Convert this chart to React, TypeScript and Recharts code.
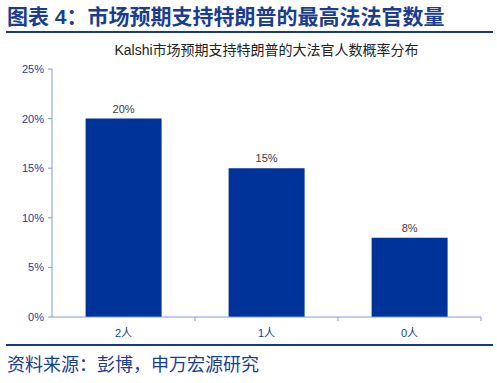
import * as React from 'react';
import { BarChart, Bar, XAxis, YAxis, LabelList } from 'recharts';

const categories = ['2人', '1人', '0人'];
const probabilities = [0.2, 0.15, 0.08];
const yTicks = [0, 0.05, 0.1, 0.15, 0.2, 0.25];

const data = categories.map((name, i) => ({ name, value: probabilities[i] }));

const FONT = '"Liberation Sans", Arial, "Noto Sans CJK SC", sans-serif';
const NAVY = '#1B3D8F';
const AXIS = '#7F9BD6';

const pct = (v: number) => `${Math.round(v * 100)}%`;

// category label plus a boundary tick at the right edge of each band
const XTick = (props: any) => {
  const { x, y, payload, width } = props;
  const band = width / categories.length;
  return (
    <g>
      <line x1={x + band / 2} x2={x + band / 2} y1={y - 12} y2={y - 8} stroke={AXIS} />
      <text x={x} y={y} dy="0.71em" textAnchor="middle" fill={NAVY} fontSize={11} fontFamily={FONT}>
        {payload.value}
      </text>
    </g>
  );
};

const App = () => {
  return (
    <div style={{ position: 'absolute', left: 0, top: 0, width: 497, height: 383, background: '#fff', fontFamily: FONT }}>
      <div
        style={{
          position: 'absolute',
          left: 7,
          top: 4,
          fontSize: 21,
          fontWeight: 'bold',
          color: NAVY,
          whiteSpace: 'nowrap',
          lineHeight: '26px',
        }}
      >
        图表 4：市场预期支持特朗普的最高法法官数量
      </div>
      <div style={{ position: 'absolute', left: 6, top: 31, width: 487, height: 2, background: '#1A3A80' }} />
      <div
        style={{
          position: 'absolute',
          left: 52,
          width: 429,
          top: 40,
          textAlign: 'center',
          fontSize: 14,
          color: '#222',
          lineHeight: '20px',
        }}
      >
        Kalshi市场预期支持特朗普的大法官人数概率分布
      </div>
      <div style={{ position: 'absolute', left: 0, top: 0 }}>
        <BarChart
          width={497}
          height={383}
          data={data}
          margin={{ top: 69, right: 16, left: 6, bottom: 46 }}
          barCategoryGap="23.5%"
        >
          <XAxis
            dataKey="name"
            stroke={AXIS}
            tickLine={false}
            tickSize={0}
            tickMargin={12}
            height={20}
            tick={<XTick />}
            interval={0}
          />
          <YAxis
            domain={[0, 0.25]}
            ticks={yTicks}
            tickFormatter={pct}
            stroke={AXIS}
            width={46}
            tickSize={4}
            tickMargin={4}
            tick={{ fill: NAVY, fontSize: 11, fontFamily: FONT }}
          />
          <Bar dataKey="value" fill="#003399" isAnimationActive={false}>
            <LabelList
              dataKey="value"
              position="top"
              offset={6}
              formatter={(v: any) => pct(Number(v))}
              fill="#404040"
              fontSize={11}
              fontFamily={FONT}
            />
          </Bar>
        </BarChart>
      </div>
      <div style={{ position: 'absolute', left: 6, top: 344, width: 487, height: 2, background: '#1A3A80' }} />
      <div
        style={{
          position: 'absolute',
          left: 7,
          top: 353,
          fontSize: 18,
          color: NAVY,
          whiteSpace: 'nowrap',
          lineHeight: '24px',
        }}
      >
        资料来源：彭博，申万宏源研究
      </div>
    </div>
  );
};

export default App;
